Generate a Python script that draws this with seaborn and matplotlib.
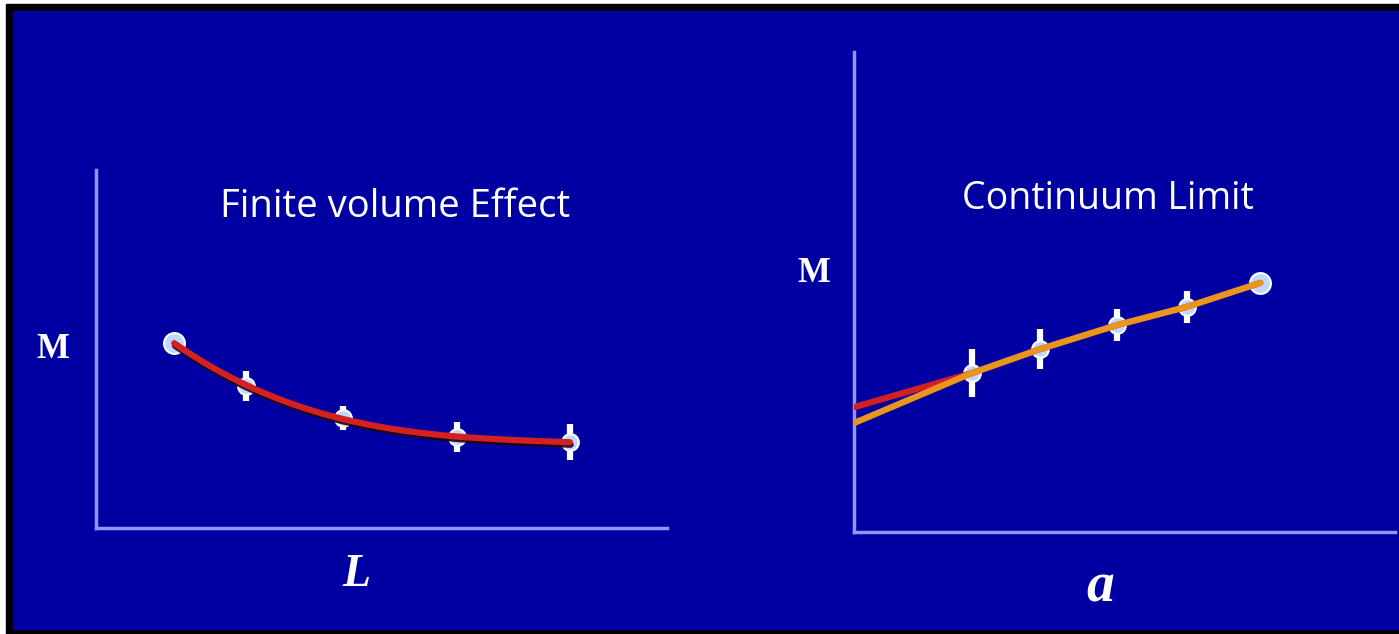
import numpy as np
import matplotlib
matplotlib.use("Agg")
import matplotlib.pyplot as plt
import matplotlib.patheffects as pe
from matplotlib.patches import Rectangle
import seaborn as sns

sns.set_theme(style="white")

# Finite volume study: mass M against box size L
vol_L = [1.37, 2.63, 4.33, 6.32, 8.30]
vol_M = [5.17, 3.97, 3.07, 2.54, 2.40]
vol_err = [0.0, 0.42, 0.34, 0.42, 0.50]

# Continuum limit study: mass M against lattice spacing a
cont_a = [2.18, 3.44, 4.86, 6.15, 7.51]
cont_M = [3.31, 3.81, 4.31, 4.69, 5.19]
cont_err = [0.50, 0.42, 0.34, 0.33, 0.0]
# Two extrapolations to a = 0
extrap_red_M0 = 2.60
extrap_orange_M0 = 2.27

panel_titles = ["Finite volume Effect", "Continuum Limit"]
x_labels = ["L", "a"]
y_label = "M"

W, H = 1399, 634
BLUE = "#0000A2"
AXIS = "#9494FF"
RED = "#D42020"
ORANGE = "#E8961E"
POINT = "#BFD8FF"

fig = plt.figure(figsize=(W / 100, H / 100), dpi=100, facecolor="white")
fig.patches.append(Rectangle((6 / W, 0), 1.0, 1 - 4 / H,
                             transform=fig.transFigure, color="black", zorder=-3))
fig.patches.append(Rectangle((13 / W, 5 / H), 1.0, 1 - 16 / H,
                             transform=fig.transFigure, color=BLUE, zorder=-2))


def px_axes(x0, x1, ytop, ybot):
    return fig.add_axes([x0 / W, 1 - ybot / H, (x1 - x0) / W, (ybot - ytop) / H])


def style(ax):
    ax.set_facecolor("none")
    ax.set_xlim(0, 10)
    ax.set_ylim(0, 10)
    ax.set_xticks([])
    ax.set_yticks([])
    for side in ["top", "right"]:
        ax.spines[side].set_visible(False)
    for side in ["left", "bottom"]:
        ax.spines[side].set_color(AXIS)
        ax.spines[side].set_linewidth(2.5)
    ax.set_xlabel("")
    ax.set_ylabel("")


def draw_points(ax, x, y, err):
    for xi, yi, ei in zip(x, y, err):
        if ei > 0:
            ax.errorbar(xi, yi, yerr=ei, fmt="o", color="white", ecolor="white",
                        elinewidth=4.5, capsize=0, ms=12, mfc=POINT, mec="white",
                        mew=1.5, zorder=3)
        else:
            ax.plot(xi, yi, "o", ms=15, mfc=POINT, mec="white", mew=1.5, zorder=3)


shadow = [pe.SimpleLineShadow(offset=(0.5, -1.8), shadow_color="#200010", alpha=0.9),
          pe.Normal()]

# Left panel
axL = px_axes(96, 667, 170, 528)
style(axL)
draw_points(axL, vol_L, vol_M, vol_err)
coef = np.polyfit(vol_L, vol_M, 3)
grid = np.linspace(min(vol_L), max(vol_L), 200)
sns.lineplot(x=grid, y=np.polyval(coef, grid), ax=axL, color=RED, lw=4.5,
             zorder=4, path_effects=shadow)
style(axL)

# Right panel
axR = px_axes(854, 1395, 52, 532)
style(axR)
draw_points(axR, cont_a, cont_M, cont_err)
sns.lineplot(x=[0.0] + cont_a, y=[extrap_red_M0] + cont_M, ax=axR, color=RED,
             lw=4.5, zorder=4, sort=False)
sns.lineplot(x=[0.0] + cont_a, y=[extrap_orange_M0] + cont_M, ax=axR,
             color=ORANGE, lw=4.5, zorder=5, sort=False)
style(axR)

# Titles and axis labels
sans = ["Open Sans", "DejaVu Sans"]
fig.text(395 / W, 1 - 207 / H, panel_titles[0], color="white", fontsize=27.5,
         family=sans, ha="center", va="center")
fig.text(1108 / W, 1 - 199 / H, panel_titles[1], color="white", fontsize=27,
         family=sans, ha="center", va="center")
fig.text(53 / W, 1 - 350 / H, y_label, color="white", fontsize=25,
         family="Liberation Serif", weight="bold", ha="center", va="center")
fig.text(814 / W, 1 - 273 / H, y_label, color="white", fontsize=25,
         family="Liberation Serif", weight="bold", ha="center", va="center")
fig.text(356 / W, 1 - 575 / H, x_labels[0], color="white", fontsize=33,
         family="Liberation Serif", weight="bold", style="italic",
         ha="center", va="center")
fig.text(1100 / W, 1 - 587 / H, x_labels[1], color="white", fontsize=40,
         family="Liberation Serif", weight="bold", style="italic",
         ha="center", va="center")

fig.savefig("out.png", dpi=100, facecolor=fig.get_facecolor())
